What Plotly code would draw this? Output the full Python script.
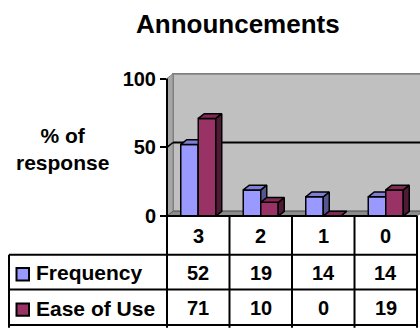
import plotly.graph_objects as go

# ---- data ----
categories = ["3", "2", "1", "0"]
frequency = [52, 19, 14, 14]
ease_of_use = [71, 10, 0, 19]
series_names = ["Frequency", "Ease of Use"]
y_ticks = [0, 50, 100]
title_text = "Announcements"
y_title = "% of<br>response"

# ---- styling / geometry ----
W, H = 420, 333
FONT = "Liberation Sans, Arial, Helvetica, sans-serif"
X0PX, XSCALE = 167.0, 62.5     # pixel of x=-0.5 edge, px per category
Y0PX, YSCALE = 221.0, 1.44     # pixel of y=0, px per unit
DX = 6.0 / XSCALE              # 3D depth (x, data units)
DY = 5.0 / YSCALE              # 3D depth (y, data units)
BARW = 0.28
YMIN, YMAX = -1.0, 104.0

front_cols = ["#9999FF", "#993366"]
top_cols = ["#7E7ED2", "#7F2A55"]
side_cols = ["#56568F", "#4F1A35"]


def px(p):
    return p / W


def py(p):
    return (H - p) / H


x_hi = -0.5 + (W - X0PX) / XSCALE
ydom = [py(Y0PX - YMIN * YSCALE), py(Y0PX - YMAX * YSCALE)]

fig = go.Figure()


def poly(xs, ys, color):
    fig.add_trace(go.Scatter(
        x=xs + [xs[0]], y=ys + [ys[0]], mode="lines", fill="toself",
        fillcolor=color, line=dict(color="black", width=1.5),
        hoverinfo="skip", showlegend=False))


series = [frequency, ease_of_use]
for i, cat in enumerate(categories):
    for s, vals in enumerate(series):
        v = vals[i]
        x0 = i - BARW + s * BARW
        x1 = x0 + BARW
        # front face
        poly([x0, x1, x1, x0], [0, 0, v, v], front_cols[s])
        # side face
        poly([x1, x1 + DX, x1 + DX, x1], [0, DY, v + DY, v], side_cols[s])
        # top face
        poly([x0, x1, x1 + DX, x0 + DX], [v, v, v + DY, v + DY], top_cols[s])

shapes = []
# back wall
shapes.append(dict(type="rect", xref="x", yref="y", x0=-0.5 + DX, x1=3.5 + DX,
                   y0=DY, y1=100 + DY, fillcolor="#C0C0C0",
                   line=dict(color="#808080", width=2), layer="below"))
# left side wall
shapes.append(dict(type="path", xref="x", yref="y",
                   path=f"M -0.5 0 L {-0.5 + DX} {DY} L {-0.5 + DX} {100 + DY} L -0.5 100 Z",
                   fillcolor="#A6A6A6", line=dict(color="#808080", width=1), layer="below"))
# floor
shapes.append(dict(type="path", xref="x", yref="y",
                   path=f"M -0.5 0 L 3.5 0 L {3.5 + DX} {DY} L {-0.5 + DX} {DY} Z",
                   fillcolor="#8C8C8C", line=dict(color="#606060", width=1), layer="below"))
# gridline at 50
shapes.append(dict(type="line", xref="x", yref="y", x0=-0.5 + DX, x1=3.5 + DX,
                   y0=50 + DY, y1=50 + DY, line=dict(color="black", width=2), layer="below"))
shapes.append(dict(type="line", xref="x", yref="y", x0=-0.5, x1=-0.5 + DX,
                   y0=50, y1=50 + DY, line=dict(color="black", width=1.5), layer="below"))
# y axis line
shapes.append(dict(type="line", xref="paper", yref="y", x0=px(X0PX), x1=px(X0PX),
                   y0=0, y1=100, line=dict(color="black", width=2)))
# x axis line / table top
shapes.append(dict(type="line", xref="paper", yref="paper", x0=px(X0PX), x1=px(417),
                   y0=py(Y0PX), y1=py(Y0PX), line=dict(color="black", width=2)))

# data table grid
TABLE_L = 9
ROW_LINES = [261.5, 298, 335]
for k in range(len(categories) + 1):
    xp = X0PX + k * XSCALE
    shapes.append(dict(type="line", xref="paper", yref="paper", x0=px(xp), x1=px(xp),
                       y0=py(Y0PX), y1=py(H + 5), line=dict(color="black", width=2)))
for r in ROW_LINES:
    shapes.append(dict(type="line", xref="paper", yref="paper", x0=px(TABLE_L), x1=px(417),
                       y0=py(r), y1=py(r), line=dict(color="black", width=2)))
shapes.append(dict(type="line", xref="paper", yref="paper", x0=px(TABLE_L), x1=px(TABLE_L),
                   y0=py(ROW_LINES[0]), y1=py(H + 5), line=dict(color="black", width=2)))

annotations = []
ROW_TEXT_Y = [280.5, 317.5]
HEADER_Y = 241.5
TFONT = dict(family=FONT, size=20, color="black", weight="bold")
for i, cat in enumerate(categories):
    annotations.append(dict(x=i, xref="x", y=py(HEADER_Y), yref="paper", text=cat,
                            showarrow=False, font=TFONT, xanchor="center", yanchor="middle"))
    for s, vals in enumerate(series):
        annotations.append(dict(x=i, xref="x", y=py(ROW_TEXT_Y[s]), yref="paper",
                                text=str(vals[i]), showarrow=False, font=TFONT,
                                xanchor="center", yanchor="middle"))
for s, name in enumerate(series_names):
    cy = ROW_TEXT_Y[s] + 1.5
    shapes.append(dict(type="rect", xref="paper", yref="paper", x0=px(16.5), x1=px(29),
                       y0=py(cy - 6.5), y1=py(cy + 6.5), fillcolor=front_cols[s],
                       line=dict(color="black", width=2)))
    annotations.append(dict(x=px(34), xref="paper", y=py(ROW_TEXT_Y[s]), yref="paper",
                            text=name, showarrow=False, font=dict(TFONT, size=21),
                            xanchor="left", yanchor="middle"))

annotations.append(dict(x=px(237.5), xref="paper", y=py(20), yref="paper", text=title_text,
                        showarrow=False, font=dict(family=FONT, size=26, color="black", weight="bold"),
                        xanchor="center", yanchor="middle"))
annotations.append(dict(x=px(62), xref="paper", y=py(151), yref="paper", text=y_title,
                        showarrow=False, font=dict(family=FONT, size=21, color="black", weight="bold"),
                        xanchor="center", yanchor="middle"))

fig.update_layout(
    width=W, height=H, autosize=False,
    margin=dict(l=0, r=0, t=0, b=0, pad=0),
    paper_bgcolor="white", plot_bgcolor="rgba(0,0,0,0)",
    showlegend=False,
    xaxis=dict(domain=[px(X0PX), 1.0], range=[-0.5, x_hi], visible=False, fixedrange=True),
    yaxis=dict(domain=ydom, range=[YMIN, YMAX], tickvals=y_ticks,
               ticktext=[str(t) for t in y_ticks], ticks="outside", ticklen=6,
               tickwidth=2, tickcolor="black", showgrid=False, zeroline=False,
               showline=False, tickfont=dict(family=FONT, size=20, color="black", weight="bold"),
               fixedrange=True),
    shapes=shapes, annotations=annotations,
)

fig.write_html("out.html")
